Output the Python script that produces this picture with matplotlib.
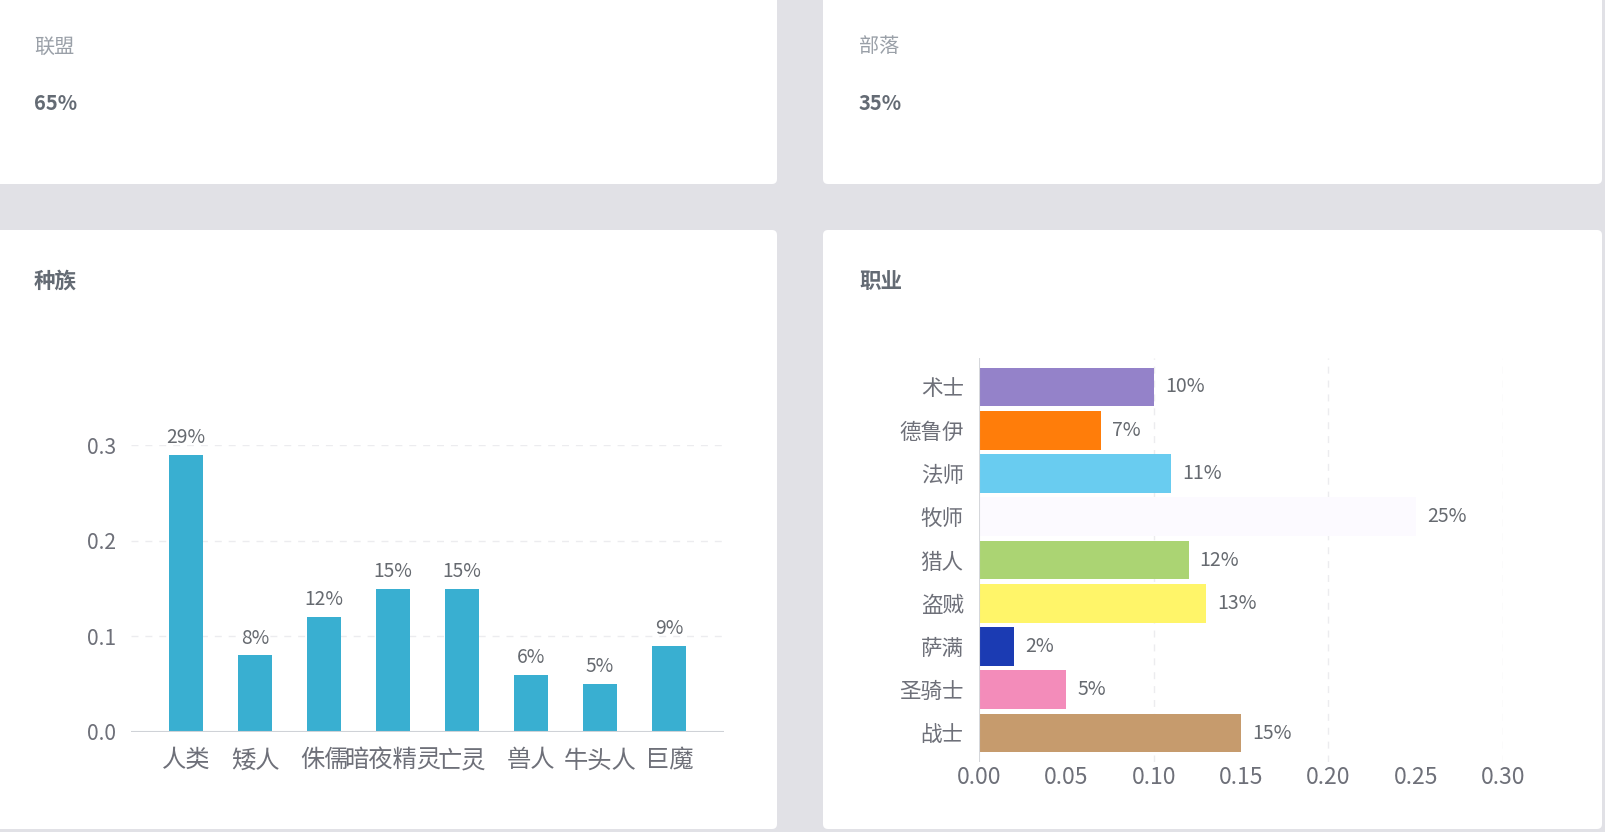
import matplotlib
matplotlib.use("Agg")
import matplotlib.pyplot as plt
from matplotlib.patches import FancyBboxPatch

plt.rcParams['font.family'] = ['Noto Sans CJK SC', 'DejaVu Sans']

# ---- data ----
faction_names = ['联盟', '部落']
faction_values = ['65%', '35%']

race_title = '种族'
race_labels = ['人类', '矮人', '侏儒', '暗夜精灵', '亡灵', '兽人', '牛头人', '巨魔']
race_values = [0.29, 0.08, 0.12, 0.15, 0.15, 0.06, 0.05, 0.09]
race_ticks = [0.0, 0.1, 0.2, 0.3]

class_title = '职业'
class_labels = ['术士', '德鲁伊', '法师', '牧师', '猎人', '盗贼', '萨满', '圣骑士', '战士']
class_values = [0.10, 0.07, 0.11, 0.25, 0.12, 0.13, 0.02, 0.05, 0.15]
class_colors = ['#9482c9', '#ff7d0a', '#69ccf0', '#fcfaff', '#abd473',
                '#fff569', '#1b3bb3', '#f38cba', '#c69b6d']
class_ticks = [0.00, 0.05, 0.10, 0.15, 0.20, 0.25, 0.30]

BG = '#e1e1e6'
TICK = '#6e7079'
LABEL = '#666a70'
TITLE = '#646b74'
SUB = '#9aa0a8'

W, H = 1606, 832
fig = plt.figure(figsize=(W / 100, H / 100), dpi=100, facecolor=BG)

# background layer in pixel coordinates
bg = fig.add_axes([0, 0, 1, 1], zorder=0)
bg.set_xlim(0, W)
bg.set_ylim(H, 0)
bg.axis('off')

cards = [(-6, -6, 783, 190), (823, -6, 779, 190), (-6, 230, 783, 599), (823, 230, 779, 599)]
for x, y, w, h in cards:
    bg.add_patch(FancyBboxPatch((x, y), w, h, boxstyle='round,pad=0,rounding_size=5',
                                facecolor='white', edgecolor='none'))

# top cards text
for (name, val), x0 in zip(zip(faction_names, faction_values), [34, 859]):
    bg.text(x0, 47, name, fontsize=14.5, color=SUB, va='center', ha='left')
    bg.text(x0, 104, val, fontsize=14.5, color=TITLE, va='center', ha='left', fontweight='bold')

bg.text(34, 281, race_title, fontsize=15.5, color=TITLE, va='center', ha='left', fontweight='bold')
bg.text(859, 281, class_title, fontsize=15.5, color=TITLE, va='center', ha='left', fontweight='bold')


def px_axes(x0, y0, x1, y1):
    return fig.add_axes([x0 / W, 1 - y1 / H, (x1 - x0) / W, (y1 - y0) / H], zorder=2)


# ---- race bar chart ----
ax1 = px_axes(131, 445, 724, 732)
ax1.set_facecolor('none')
xs = list(range(len(race_labels)))
ax1.bar(xs, race_values, width=0.5, color='#39afd1', zorder=3)
for x, v in zip(xs, race_values):
    ax1.annotate(f"{round(v * 100)}%", (x, v), xytext=(0, 5), textcoords='offset points',
                 ha='center', va='bottom', fontsize=13.8, color=LABEL, clip_on=False)
ax1.set_xlim(-0.8, len(race_labels) - 0.2)
ax1.set_ylim(0, 0.3)
ax1.set_yticks(race_ticks)
ax1.set_yticklabels([f"{t:.1f}" for t in race_ticks])
ax1.set_xticks(xs)
ax1.set_xticklabels(race_labels)
for t in race_ticks[1:]:
    ax1.axhline(t, color='#ececef', lw=1, ls=(0, (5, 5)), zorder=1)
ax1.axhline(0, color='#cfd2d7', lw=1.5, zorder=4)
for s in ax1.spines.values():
    s.set_visible(False)
ax1.tick_params(axis='y', length=0, pad=11, labelsize=15.2, labelcolor=TICK)
ax1.tick_params(axis='x', length=0, pad=11, labelsize=17.5, labelcolor=TICK)

# ---- class bar chart ----
ax2 = px_axes(979, 358, 1503, 762)
ax2.set_facecolor('none')
ys = list(range(len(class_labels)))
ax2.barh(ys, class_values, height=0.9, color=class_colors, zorder=3)
for y, v in zip(ys, class_values):
    ax2.annotate(f"{round(v * 100)}%", (v, y), xytext=(8, 0), textcoords='offset points',
                 ha='left', va='center', fontsize=14, color=LABEL, clip_on=False)
ax2.set_ylim(len(class_labels) - 0.33, -0.67)
ax2.set_xlim(0, 0.3)
ax2.set_yticks(ys)
ax2.set_yticklabels(class_labels)
ax2.set_xticks(class_ticks)
ax2.set_xticklabels([f"{t:.2f}" for t in class_ticks])
for t in [0.1, 0.2, 0.3]:
    ax2.axvline(t, color='#ececef', lw=1, ls=(0, (5, 5)), zorder=1)
ax2.axvline(0, color='#d5d7db', lw=1.5, zorder=4)
for s in ax2.spines.values():
    s.set_visible(False)
ax2.tick_params(axis='y', length=0, pad=11, labelsize=15.5, labelcolor=TICK)
ax2.tick_params(axis='x', length=0, pad=3, labelsize=16.5, labelcolor=TICK)

fig.savefig('out.png', dpi=100, facecolor=BG)
